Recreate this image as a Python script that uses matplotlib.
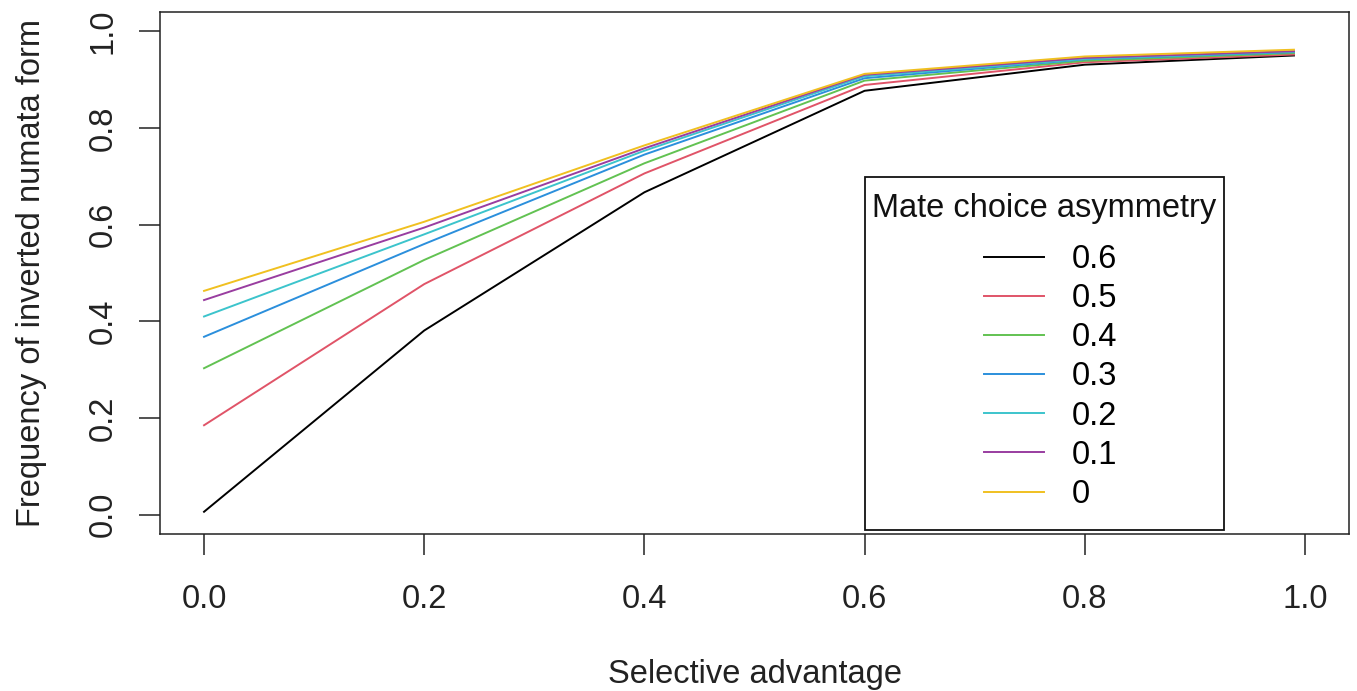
import numpy as np
import matplotlib
matplotlib.use("Agg")
import matplotlib.pyplot as plt
from matplotlib.patches import Rectangle

plt.rcParams['font.family'] = ['Liberation Sans', 'DejaVu Sans']

# selective advantage values (x) and frequency of the inverted form for each asymmetry level
sel_adv = [0.0, 0.2, 0.4, 0.6, 0.8, 0.99]
asym_labels = ['0.6', '0.5', '0.4', '0.3', '0.2', '0.1', '0']
freq_06 = [0.006, 0.381, 0.667, 0.877, 0.931, 0.950]
freq_05 = [0.185, 0.477, 0.706, 0.889, 0.936, 0.952]
freq_04 = [0.303, 0.527, 0.727, 0.898, 0.939, 0.955]
freq_03 = [0.368, 0.560, 0.745, 0.903, 0.942, 0.957]
freq_02 = [0.410, 0.580, 0.753, 0.907, 0.943, 0.958]
freq_01 = [0.444, 0.594, 0.758, 0.910, 0.945, 0.959]
freq_00 = [0.463, 0.606, 0.764, 0.912, 0.948, 0.962]
line_colors = ['#000000', '#E05468', '#62C252', '#2B8FDC', '#3CC4CC', '#993DA0', '#F0C020']

series = [freq_06, freq_05, freq_04, freq_03, freq_02, freq_01, freq_00]

W, H = 1357, 691
FS = 23.5
fig = plt.figure(figsize=(W/100, H/100), dpi=100)
ax = fig.add_axes([160/W, 1-534/H, (1349-160)/W, (534-12)/H])

for vals, col, lab in zip(series, line_colors, asym_labels):
    ax.plot(sel_adv, vals, color=col, lw=1.4, label=lab)

ax.set_xlim(-0.04, 1.04)
ax.set_ylim(-0.04, 1.04)
ax.set_xticks([0.0, 0.2, 0.4, 0.6, 0.8, 1.0])
ax.set_xticklabels(['0.0', '0.2', '0.4', '0.6', '0.8', '1.0'])
ax.set_yticks([0.0, 0.2, 0.4, 0.6, 0.8, 1.0])
ax.set_yticklabels(['0.0', '0.2', '0.4', '0.6', '0.8', '1.0'], rotation=90, va='center')
ax.tick_params(axis='both', direction='out', length=15, width=1.1, labelsize=FS,
               color='#222222', labelcolor='#222222')
ax.tick_params(axis='x', pad=21)
ax.tick_params(axis='y', pad=15)
for sp in ax.spines.values():
    sp.set_linewidth(1.1)
    sp.set_color('#222222')

fig.text(755/W, 1-675/H, 'Selective advantage', ha='center', va='center', fontsize=FS, color='#222222')
fig.text(32/W, 1-273/H, 'Frequency of inverted numata form', ha='center', va='center',
         rotation=90, fontsize=FS, color='#222222')

# legend box and title drawn separately so they sit where the reference has them
box = Rectangle((865/W, 1-530/H), (1224-865)/W, (530-177)/H,
                transform=fig.transFigure, facecolor='white',
                edgecolor='#111111', lw=1.3, zorder=4, clip_on=False)
ax.add_patch(box)
ax.text(1044.5/W, 1-208/H, 'Mate choice asymmetry', transform=fig.transFigure,
        ha='center', va='center', fontsize=FS, color='#111111', zorder=6)
leg = ax.legend(fontsize=FS, loc='upper left', bbox_to_anchor=(984/W, 1-244/H),
                bbox_transform=fig.transFigure,
                frameon=False, handlelength=1.84, handletextpad=0.86,
                labelspacing=0.25, borderpad=0.0, borderaxespad=0)
leg.set_zorder(6)

fig.savefig('out.png', dpi=100)
